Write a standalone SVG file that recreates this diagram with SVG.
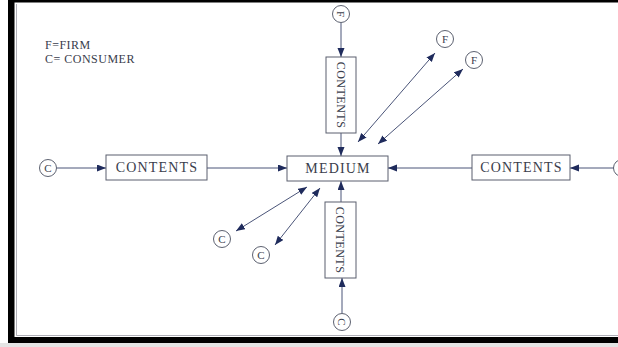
<svg xmlns="http://www.w3.org/2000/svg" width="618" height="347" viewBox="0 0 618 347">
  <style>
    .box { fill: #ffffff; stroke: #5a5f6e; stroke-width: 1; }
    .lbl { font-family: "Liberation Serif", "DejaVu Serif", serif; fill: #3a3d4c; }
    .h { font-size: 14px; letter-spacing: 1.2px; text-anchor: middle; }
    .v { font-size: 12px; letter-spacing: 0.5px; text-anchor: middle; }
    .ring { fill: #ffffff; stroke: #4a4f60; stroke-width: 0.9; }
    .ch { font-size: 11px; text-anchor: middle; }
    .legend { font-size: 12px; letter-spacing: 0.5px; }
    .wire { stroke: #4a5478; stroke-width: 1; fill: none; }
  </style>
  <defs>
    <marker id="head" markerUnits="userSpaceOnUse" markerWidth="10" markerHeight="8" refX="9" refY="3.5" orient="auto-start-reverse">
      <path d="M0,0 L9,3.5 L0,7 z" fill="#1f2b5c"/>
    </marker>
  </defs>

  <!-- page background and scan frame -->
  <rect x="0" y="0" width="618" height="347" fill="#ffffff"/>
  <rect x="8" y="0" width="610" height="2.5" fill="#000000"/>
  <rect x="8" y="0" width="6.5" height="343" fill="#000000"/>
  <rect x="8" y="337" width="610" height="6" fill="#000000"/>
  <rect x="0" y="343" width="618" height="4" fill="#e4e4e4"/>
  <path d="M16.5,4 V335.5 H618" fill="none" stroke="#9a9aa4" stroke-width="0.8"/>

  <!-- legend -->
  <g id="legend" class="lbl legend">
    <text x="45" y="49">F=FIRM</text>
    <text x="45" y="63">C= CONSUMER</text>
  </g>

  <!-- connectors -->
  <g id="connectors" class="wire">
    <line x1="341" y1="23" x2="341" y2="57" marker-end="url(#head)"/>
    <line x1="341" y1="133" x2="341" y2="156" marker-end="url(#head)"/>
    <line x1="57" y1="168" x2="106" y2="168" marker-end="url(#head)"/>
    <line x1="207" y1="168" x2="287" y2="168" marker-end="url(#head)"/>
    <line x1="614" y1="168" x2="570" y2="168" marker-end="url(#head)"/>
    <line x1="472" y1="168" x2="388" y2="168" marker-end="url(#head)"/>
    <line x1="341" y1="202" x2="341" y2="181" marker-end="url(#head)"/>
    <line x1="342" y1="313" x2="342" y2="278" marker-end="url(#head)"/>
    <line x1="435" y1="53" x2="358" y2="142" marker-start="url(#head)" marker-end="url(#head)"/>
    <line x1="463" y1="69" x2="378" y2="144" marker-start="url(#head)" marker-end="url(#head)"/>
    <line x1="236" y1="231" x2="307" y2="187" marker-start="url(#head)" marker-end="url(#head)"/>
    <line x1="275" y1="245" x2="320" y2="188" marker-start="url(#head)" marker-end="url(#head)"/>
  </g>

  <!-- central medium -->
  <g id="medium">
    <rect class="box" x="287" y="156" width="101" height="25"/>
    <text class="lbl h" x="338" y="173">MEDIUM</text>
  </g>

  <!-- contents boxes -->
  <g id="contents-top">
    <rect class="box" x="326" y="57" width="30" height="76"/>
    <text class="lbl v" transform="translate(341 95) rotate(90)" x="0" y="4.5">CONTENTS</text>
  </g>
  <g id="contents-left">
    <rect class="box" x="106" y="155" width="101" height="25"/>
    <text class="lbl h" x="157" y="172">CONTENTS</text>
  </g>
  <g id="contents-right">
    <rect class="box" x="472" y="155" width="98" height="25"/>
    <text class="lbl h" x="521.5" y="172">CONTENTS</text>
  </g>
  <g id="contents-bottom">
    <rect class="box" x="325" y="202" width="31" height="76"/>
    <text class="lbl v" transform="translate(340.5 240) rotate(90)" x="0" y="4.5">CONTENTS</text>
  </g>

  <!-- firms -->
  <g id="firm-top">
    <circle class="ring" cx="341" cy="14" r="8.5"/>
    <text class="lbl ch" transform="translate(341 14) rotate(90)" x="0" y="4">F</text>
  </g>
  <g id="firm-1">
    <circle class="ring" cx="445" cy="39" r="8.5"/>
    <text class="lbl ch" x="445" y="43">F</text>
  </g>
  <g id="firm-2">
    <circle class="ring" cx="474" cy="60" r="8.5"/>
    <text class="lbl ch" x="474" y="64">F</text>
  </g>

  <!-- consumers -->
  <g id="consumer-left">
    <circle class="ring" cx="48" cy="168" r="8.5"/>
    <text class="lbl ch" x="48" y="172">C</text>
  </g>
  <g id="consumer-right">
    <circle class="ring" cx="622" cy="168" r="8.5"/>
    <text class="lbl ch" x="622" y="172">C</text>
  </g>
  <g id="consumer-bottom">
    <circle class="ring" cx="342" cy="322" r="8.5"/>
    <text class="lbl ch" transform="translate(342 322) rotate(90)" x="0" y="4">C</text>
  </g>
  <g id="consumer-1">
    <circle class="ring" cx="222" cy="239" r="8.5"/>
    <text class="lbl ch" x="222" y="243">C</text>
  </g>
  <g id="consumer-2">
    <circle class="ring" cx="261" cy="255" r="8.5"/>
    <text class="lbl ch" x="261" y="259">C</text>
  </g>
</svg>
